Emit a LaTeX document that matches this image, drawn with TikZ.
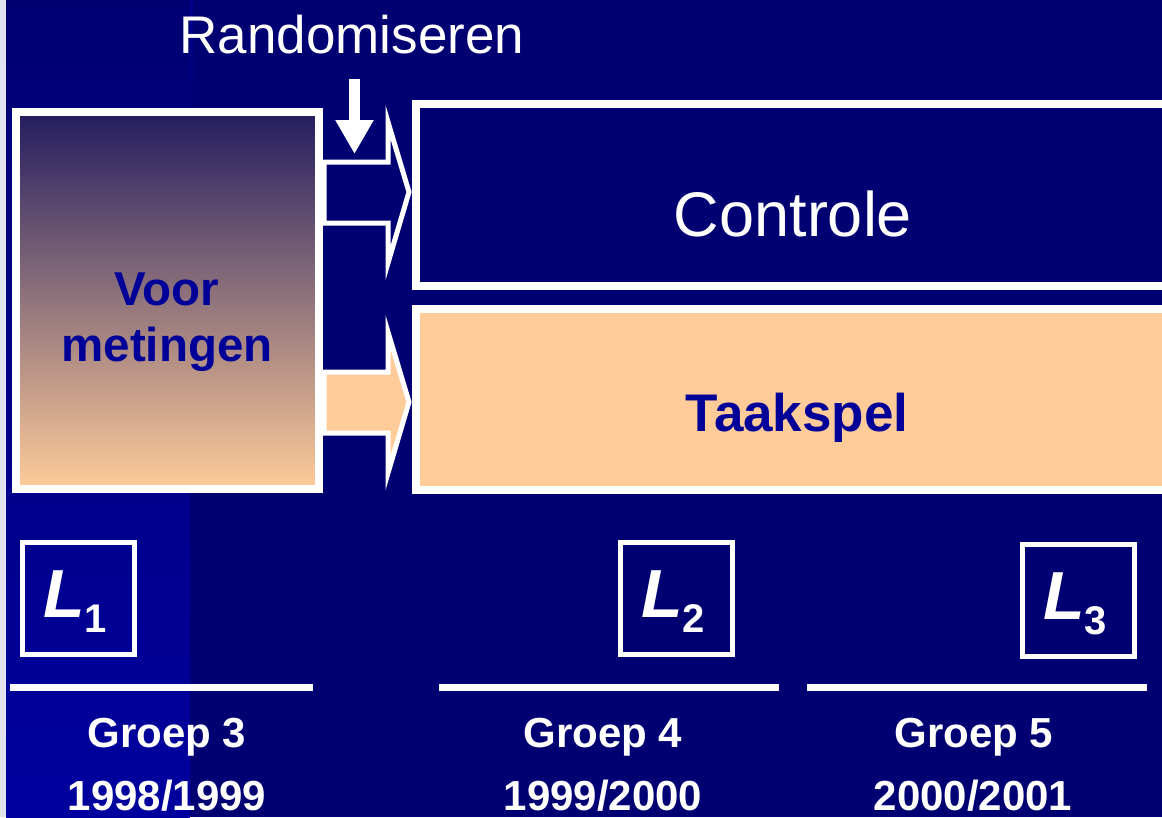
\documentclass[tikz,border=0pt]{standalone}
\usepackage{fontspec}
\setmainfont{Liberation Sans}
\usetikzlibrary{arrows.meta}
\definecolor{navy}{RGB}{0,0,115}
\definecolor{stripblue}{RGB}{0,0,158}
\definecolor{textblue}{RGB}{0,0,153}
\definecolor{peach}{RGB}{255,204,153}
\definecolor{dusk}{RGB}{35,28,95}
\definecolor{edge}{RGB}{225,228,240}
\tikzset{
  frame/.style={draw=white, line width=8pt, inner sep=0pt},
  blockarrow/.style={draw=white, line width=5pt, line join=miter},
  lbox/.style={draw=white, line width=5pt, minimum width=112pt, minimum height=112pt, inner sep=0pt, fill=none},
  sepline/.style={draw=white, line width=7pt},
  bigwhite/.style={text=white, inner sep=0pt},
  grp/.style={text=white, inner sep=0pt, font=\fontsize{42}{48}\selectfont\bfseries},
  voorfont/.style={text=textblue, inner sep=0pt, font=\fontsize{47.5}{57}\selectfont\bfseries},
}
\newcommand{\Lsub}[1]{{\fontsize{68}{70}\selectfont\bfseries\itshape L}\raisebox{-15pt}{\fontsize{40}{42}\selectfont\bfseries #1}}
\begin{document}
\begin{tikzpicture}[x=1pt,y=-1pt]
\useasboundingbox (0,0) rectangle (1162,817);
\clip (0,0) rectangle (1162,817);
% background
\fill[navy] (0,0) rectangle (1162,817);
\shade[top color=navy, bottom color=stripblue] (6,0) rectangle (190,817);
\shade[top color=stripblue!70!navy, bottom color=navy] (190,0) rectangle (193,120);
\fill[edge] (0,0) rectangle (6,817);
% boxes
\node[frame, fill=none, top color=dusk, bottom color=peach, minimum width=303pt, minimum height=377pt] (voor) at (167.5,300.5) {};
\node[voorfont, anchor=base] (voortxt1) at (167,305) {Voor};
\node[voorfont, anchor=base] (voortxt2) at (167,361) {metingen};
\node[frame, fill=navy, minimum width=780pt, minimum height=182pt] (controle) at (806,194.5) {};
\node[bigwhite, font=\fontsize{63}{70}\selectfont, anchor=base] (controletxt) at (793,236) {Controle};
\node[frame, fill=peach, minimum width=780pt, minimum height=181pt] (taak) at (806,399) {};
\node[text=textblue, inner sep=0pt, font=\fontsize{53}{60}\selectfont\bfseries, anchor=base] (taaktxt) at (797,431) {Taakspel};
% randomiseren
\node[bigwhite, font=\fontsize{53}{60}\selectfont, anchor=base] (rand) at (352,53) {Randomiseren};
\coordinate (downstart) at (354.5,79);
\coordinate (downend) at (354.5,154);
\draw[white, line width=11pt, -{Triangle[width=36pt,length=34pt]}] (downstart) -- (downend);
% block arrows
\draw[blockarrow, fill=navy] (324,162) -- (388,162) -- (388,122) -- (409,192) -- (388,263) -- (388,223) -- (324,223) -- cycle;
\draw[blockarrow, fill=peach] (324,372) -- (388,372) -- (388,332) -- (409,402) -- (388,473) -- (388,433) -- (324,433) -- cycle;
% L boxes
\node[lbox] (l1) at (78,598) {};
\node[bigwhite, anchor=base] (l1t) at (75,617) {\Lsub{1}};
\node[lbox] (l2) at (676,598.5) {};
\node[bigwhite, anchor=base] (l2t) at (673,617) {\Lsub{2}};
\node[lbox] (l3) at (1078.5,600) {};
\node[bigwhite, anchor=base] (l3t) at (1075,619) {\Lsub{3}};
% separator lines
\coordinate (a1) at (10,687); \coordinate (b1) at (313,687);
\coordinate (a2) at (439,687); \coordinate (b2) at (779,687);
\coordinate (a3) at (807,687); \coordinate (b3) at (1147,687);
\draw[sepline] (a1) -- (b1);
\draw[sepline] (a2) -- (b2);
\draw[sepline] (a3) -- (b3);
% labels
\node[grp, anchor=base] (g3) at (167,747) {Groep 3};
\node[grp, anchor=base] (y3) at (167,810) {1998/1999};
\node[grp, anchor=base] (g4) at (603,747) {Groep 4};
\node[grp, anchor=base] (y4) at (603,810) {1999/2000};
\node[grp, anchor=base] (g5) at (974,747) {Groep 5};
\node[grp, anchor=base] (y5) at (973,810) {2000/2001};
\end{tikzpicture}
\end{document}
